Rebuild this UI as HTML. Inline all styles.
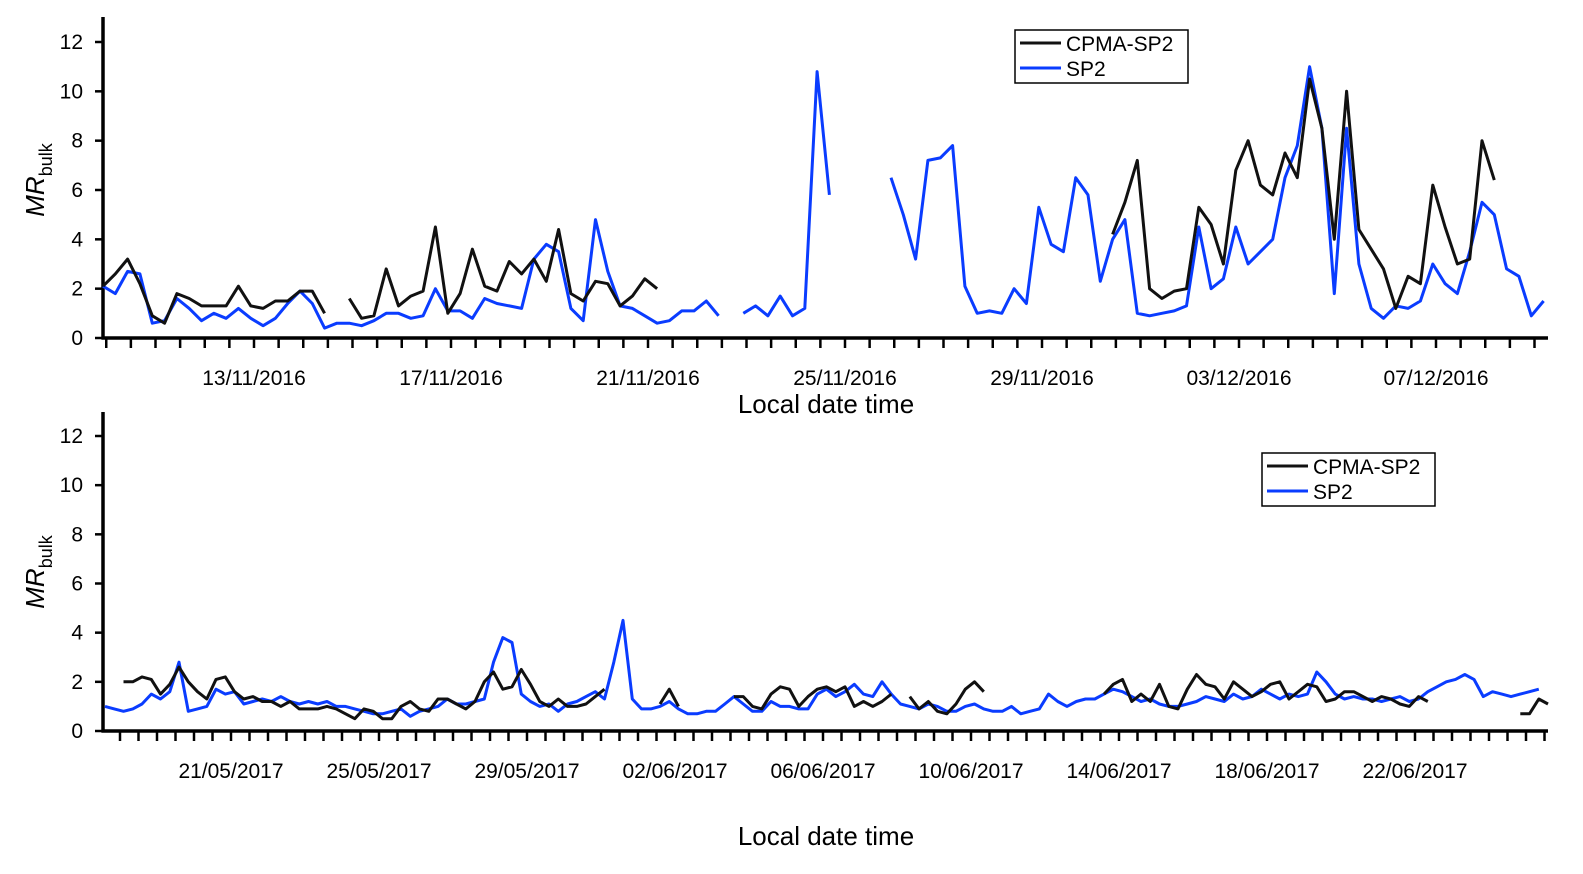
<!DOCTYPE html>
<html><head><meta charset="utf-8"><style>
body{margin:0;background:#fff;}
svg{display:block;font-family:"Liberation Sans",Arial,sans-serif;}
</style></head><body>
<svg id="chart" width="1583" height="874" viewBox="0 0 1583 874" xmlns="http://www.w3.org/2000/svg">
<g id="top"></g>
<g id="bot"></g>
</svg>
<script>
// ---- data (6-hourly samples) ----
const topSP2 = [2.1,1.8,2.7,2.6,0.6,0.7,1.6,1.2,0.7,1.0,0.8,1.2,0.8,0.5,0.8,1.4,1.9,1.4,0.4,0.6,0.6,0.5,0.7,1.0,1.0,0.8,0.9,2.0,1.1,1.1,0.8,1.6,1.4,1.3,1.2,3.2,3.8,3.5,1.2,0.7,4.8,2.7,1.3,1.2,0.9,0.6,0.7,1.1,1.1,1.5,0.9,null,1.0,1.3,0.9,1.7,0.9,1.2,10.8,5.8,null,null,null,null,6.5,5.0,3.2,7.2,7.3,7.8,2.1,1.0,1.1,1.0,2.0,1.4,5.3,3.8,3.5,6.5,5.8,2.3,4.0,4.8,1.0,0.9,1.0,1.1,1.3,4.5,2.0,2.4,4.5,3.0,3.5,4.0,6.5,7.8,11.0,8.5,1.8,8.5,3.0,1.2,0.8,1.3,1.2,1.5,3.0,2.2,1.8,3.5,5.5,5.0,2.8,2.5,0.9,1.5];
const topCPMA = [2.1,2.6,3.2,2.2,0.9,0.6,1.8,1.6,1.3,1.3,1.3,2.1,1.3,1.2,1.5,1.5,1.9,1.9,1.0,null,1.6,0.8,0.9,2.8,1.3,1.7,1.9,4.5,1.0,1.8,3.6,2.1,1.9,3.1,2.6,3.2,2.3,4.4,1.8,1.5,2.3,2.2,1.3,1.7,2.4,2.0,null,null,null,null,null,null,null,null,null,null,null,null,null,null,null,null,null,null,null,null,null,null,null,null,null,null,null,null,null,null,null,null,null,null,null,null,4.2,5.5,7.2,2.0,1.6,1.9,2.0,5.3,4.6,3.0,6.8,8.0,6.2,5.8,7.5,6.5,10.5,8.5,4.0,10.0,4.4,3.6,2.8,1.2,2.5,2.2,6.2,4.5,3.0,3.2,8.0,6.4];
const botSP2 = [1.0,0.9,0.8,0.9,1.1,1.5,1.3,1.6,2.8,0.8,0.9,1.0,1.7,1.5,1.6,1.1,1.2,1.3,1.2,1.4,1.2,1.1,1.2,1.1,1.2,1.0,1.0,0.9,0.8,0.7,0.7,0.8,0.9,0.6,0.8,0.9,1.0,1.3,1.1,1.1,1.2,1.3,2.8,3.8,3.6,1.5,1.2,1.0,1.1,0.8,1.1,1.2,1.4,1.6,1.3,2.8,4.5,1.3,0.9,0.9,1.0,1.2,0.9,0.7,0.7,0.8,0.8,1.1,1.4,1.1,0.8,0.8,1.2,1.0,1.0,0.9,0.9,1.5,1.7,1.4,1.6,1.9,1.5,1.4,2.0,1.5,1.1,1.0,0.9,1.1,1.0,0.8,0.8,1.0,1.1,0.9,0.8,0.8,1.0,0.7,0.8,0.9,1.5,1.2,1.0,1.2,1.3,1.3,1.5,1.7,1.6,1.4,1.2,1.3,1.1,1.0,1.0,1.1,1.2,1.4,1.3,1.2,1.5,1.3,1.4,1.7,1.5,1.3,1.5,1.4,1.5,2.4,2.0,1.5,1.3,1.4,1.3,1.3,1.2,1.3,1.4,1.2,1.3,1.6,1.8,2.0,2.1,2.3,2.1,1.4,1.6,1.5,1.4,1.5,1.6,1.7];
const botCPMA = [null,null,2.0,2.0,2.2,2.1,1.5,1.9,2.6,2.0,1.6,1.3,2.1,2.2,1.6,1.3,1.4,1.2,1.2,1.0,1.2,0.9,0.9,0.9,1.0,0.9,0.7,0.5,0.9,0.8,0.5,0.5,1.0,1.2,0.9,0.8,1.3,1.3,1.1,0.9,1.2,2.0,2.4,1.7,1.8,2.5,1.9,1.2,1.0,1.3,1.0,1.0,1.1,1.4,1.7,null,null,null,null,null,1.1,1.7,1.0,null,null,null,null,null,1.4,1.4,1.0,0.9,1.5,1.8,1.7,1.0,1.4,1.7,1.8,1.6,1.8,1.0,1.2,1.0,1.2,1.5,null,1.4,0.9,1.2,0.8,0.7,1.1,1.7,2.0,1.6,null,null,null,null,null,null,null,null,null,null,null,null,1.5,1.9,2.1,1.2,1.5,1.2,1.9,1.0,0.9,1.7,2.3,1.9,1.8,1.3,2.0,1.7,1.4,1.6,1.9,2.0,1.3,1.6,1.9,1.8,1.2,1.3,1.6,1.6,1.4,1.2,1.4,1.3,1.1,1.0,1.4,1.2,null,null,null,null,null,null,null,null,null,0.7,0.7,1.3,1.1];
const yTicks = [0,2,4,6,8,10,12];
const topDateLabels = ["13/11/2016","17/11/2016","21/11/2016","25/11/2016","29/11/2016","03/12/2016","07/12/2016"];
const botDateLabels = ["21/05/2017","25/05/2017","29/05/2017","02/06/2017","06/06/2017","10/06/2017","14/06/2017","18/06/2017","22/06/2017"];

const NS="http://www.w3.org/2000/svg";
function mk(parent,tag,attrs,name){const e=document.createElementNS(NS,tag);for(const k in attrs)e.setAttribute(k,attrs[k]);


parent.appendChild(e);return e;}

function panel(g,cfg){
  const y=v=>cfg.y0-(v/12)*(cfg.y0-cfg.y12);
  const xi=i=>cfg.sx0+i*cfg.dayPx/4;
  mk(g,'line',{x1:cfg.xl,y1:cfg.yTop,x2:cfg.xl,y2:cfg.y0+1.5,stroke:'#000','stroke-width':3.5},'y-axis');
  mk(g,'line',{x1:cfg.xl-1.5,y1:cfg.y0,x2:cfg.xr,y2:cfg.y0,stroke:'#000','stroke-width':3.5},'x-axis');
  yTicks.forEach(v=>{
    mk(g,'line',{x1:cfg.xl-8,y1:y(v),x2:cfg.xl,y2:y(v),stroke:'#000','stroke-width':2.5},'y-tick');
    const t=mk(g,'text',{x:cfg.xl-20,y:y(v)+7,'text-anchor':'end','font-size':21},'y-tick-label');t.textContent=v;
  });
  const xd=k=>cfg.lab0+k*cfg.dayPx;
  for(let h=-20;h<200;h++){const x=cfg.lab0+h*cfg.dayPx/2;if(x<cfg.xl+2||x>cfg.xr)continue;
    mk(g,'line',{x1:x,y1:cfg.y0,x2:x,y2:cfg.y0+10,stroke:'#000','stroke-width':2.5},'x-tick');}
  cfg.labels.forEach((s,k)=>{const t=mk(g,'text',{x:xd(k*4),y:cfg.y0+47,'text-anchor':'middle','font-size':21},'x-tick-label');t.textContent=s;});
  const tt=mk(g,'text',{x:826,y:cfg.titleY,'text-anchor':'middle','font-size':26},'x-axis-title');tt.textContent='Local date time';
  const yt=mk(g,'text',{transform:`translate(44,${cfg.ylabY}) rotate(-90)`,'text-anchor':'middle','font-size':26},'y-axis-title');
  yt.innerHTML='<tspan font-style="italic">MR</tspan><tspan font-size="18" dy="8">bulk</tspan>';
  function path(arr,color,name){let d='',pen=false;arr.forEach((v,i)=>{if(v==null){pen=false;return;}
    d+=(pen?'L':'M')+xi(i).toFixed(1)+','+y(v).toFixed(1);pen=true;});
    mk(g,'path',{d:d,fill:'none',stroke:color,'stroke-width':3,'stroke-linejoin':'round'},name);}
  path(cfg.sp2,'#0a3cff','sp2-line');
  path(cfg.cpma,'#111','cpma-sp2-line');
  const L=cfg.leg;
  mk(g,'rect',{x:L[0],y:L[1],width:173,height:53,fill:'#fff',stroke:'#000','stroke-width':1.5},'legend-box');
  mk(g,'line',{x1:L[0]+5,y1:L[1]+13,x2:L[0]+46,y2:L[1]+13,stroke:'#111','stroke-width':3},'legend-cpma-swatch');
  mk(g,'line',{x1:L[0]+5,y1:L[1]+38,x2:L[0]+46,y2:L[1]+38,stroke:'#0a3cff','stroke-width':3},'legend-sp2-swatch');
  let a=mk(g,'text',{x:L[0]+51,y:L[1]+21,'font-size':21},'legend-cpma-label');a.textContent='CPMA-SP2';
  a=mk(g,'text',{x:L[0]+51,y:L[1]+46,'font-size':21},'legend-sp2-label');a.textContent='SP2';
}
panel(document.getElementById('top'),{y0:338,y12:42,yTop:17,xl:103,xr:1548,sx0:103,dayPx:49.25,lab0:254,
  labels:topDateLabels,titleY:413,ylabY:180,sp2:topSP2,cpma:topCPMA,leg:[1015,30]});
panel(document.getElementById('bot'),{y0:731,y12:436,yTop:412,xl:103,xr:1548,sx0:105,dayPx:37,lab0:231,
  labels:botDateLabels,titleY:845,ylabY:572,sp2:botSP2,cpma:botCPMA,leg:[1262,453]});
</script>
</body></html>
